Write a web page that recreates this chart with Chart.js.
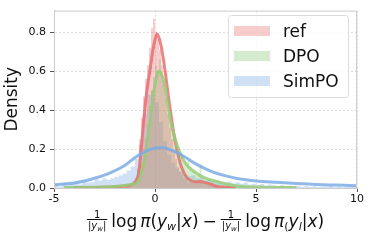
<!DOCTYPE html>
<html lang="en">
<head>
<meta charset="UTF-8">
<title>Density</title>
<script src="https://cdn.jsdelivr.net/npm/chart.js@4.4.1/dist/chart.umd.min.js"></script>
<style>
  body { margin: 0; background: #fff; }
</style>
</head>
<body>
<canvas id="density" width="372" height="244"></canvas>
<script>
// ---- data ----
const seriesNames = ['ref', 'DPO', 'SimPO'];

// histogram bins (density), bin width 0.1 for ref/DPO, 0.2 for SimPO
const refHistStart = -3.0, refHistWidth = 0.1;
const refHist = [
  0.003, 0.0, 0.005, 0.002, 0.004, 0.0, 0.006, 0.003, 0.005, 0.007,
  0.006, 0.009, 0.004, 0.010, 0.008, 0.012, 0.009, 0.015, 0.013, 0.022,
  0.030, 0.050, 0.100, 0.220, 0.360, 0.470, 0.560, 0.630, 0.720, 0.820,
  0.870, 0.800, 0.760, 0.710, 0.630, 0.550, 0.460, 0.380, 0.310, 0.250,
  0.200, 0.150, 0.110, 0.085, 0.070, 0.050, 0.045, 0.030, 0.036, 0.028,
  0.034, 0.030, 0.036, 0.027, 0.031, 0.022, 0.026, 0.015, 0.018, 0.010,
  0.008, 0.006, 0.004, 0.005, 0.002, 0.003, 0.001, 0.002, 0.0, 0.001
];
const dpoHistStart = -4.5, dpoHistWidth = 0.1;
const dpoHist = [
  0.002, 0.0, 0.004, 0.001, 0.003, 0.002, 0.005, 0.0, 0.004, 0.003,
  0.004, 0.006, 0.002, 0.005, 0.003, 0.007, 0.004, 0.006, 0.005, 0.008,
  0.005, 0.009, 0.006, 0.008, 0.012, 0.007, 0.010, 0.013, 0.009, 0.014,
  0.012, 0.016, 0.014, 0.020, 0.018, 0.024, 0.030, 0.045, 0.070, 0.120,
  0.170, 0.250, 0.330, 0.420, 0.500, 0.570, 0.630, 0.600, 0.660, 0.580,
  0.530, 0.460, 0.400, 0.350, 0.300, 0.270, 0.230, 0.210, 0.180, 0.160,
  0.130, 0.120, 0.140, 0.110, 0.085, 0.090, 0.070, 0.065, 0.120, 0.050,
  0.052, 0.040, 0.045, 0.035, 0.038, 0.030, 0.028, 0.032, 0.022, 0.025,
  0.020, 0.017, 0.019, 0.013, 0.014, 0.010, 0.012, 0.008, 0.009, 0.006,
  0.007, 0.004, 0.006, 0.003, 0.004
];
const simpoHistStart = -5.0, simpoHistWidth = 0.2;
const simpoHist = [
  0.012, 0.020, 0.008, 0.025, 0.015,
  0.020, 0.030, 0.018, 0.035, 0.028,
  0.030, 0.045, 0.038, 0.050, 0.042,
  0.050, 0.058, 0.065, 0.075, 0.090,
  0.110, 0.150, 0.250, 0.380, 0.480,
  0.500, 0.440, 0.340, 0.240, 0.170,
  0.130, 0.100, 0.085, 0.070, 0.060,
  0.065, 0.050, 0.055, 0.040, 0.045,
  0.035, 0.040, 0.030, 0.028, 0.033,
  0.025, 0.030, 0.022, 0.028, 0.018,
  0.022, 0.015, 0.020, 0.012, 0.018,
  0.014, 0.010, 0.016, 0.009, 0.012,
  0.008, 0.012, 0.007, 0.010, 0.006,
  0.009, 0.005, 0.008, 0.006, 0.010,
  0.005, 0.008, 0.004, 0.007, 0.006
];

// KDE curves
const refKdeX = [-4, -3, -2.5, -2, -1.5, -1.25, -1.1, -1.0, -0.9, -0.8, -0.7, -0.6, -0.5, -0.4, -0.3, -0.2, -0.1, 0, 0.1, 0.2, 0.3, 0.4, 0.5, 0.6, 0.7, 0.8, 0.9, 1.0, 1.1, 1.2, 1.3, 1.4, 1.5, 1.6, 1.8, 2.0, 2.2, 2.4, 2.6, 2.8, 3.0, 3.3, 3.6, 4.0];
const refKdeY = [0.002, 0.003, 0.004, 0.006, 0.010, 0.013, 0.020, 0.030, 0.045, 0.080, 0.180, 0.300, 0.410, 0.500, 0.570, 0.640, 0.710, 0.760, 0.790, 0.770, 0.730, 0.670, 0.600, 0.520, 0.440, 0.370, 0.300, 0.240, 0.190, 0.145, 0.110, 0.085, 0.065, 0.050, 0.037, 0.032, 0.033, 0.030, 0.025, 0.018, 0.010, 0.005, 0.002, 0.001];

const dpoKdeX = [-4.5, -4, -3, -2.5, -2, -1.5, -1.2, -1.0, -0.9, -0.8, -0.7, -0.6, -0.5, -0.4, -0.3, -0.2, -0.1, 0, 0.1, 0.2, 0.3, 0.4, 0.5, 0.6, 0.7, 0.8, 0.9, 1.0, 1.2, 1.4, 1.6, 1.8, 2.0, 2.3, 2.6, 3.0, 3.5, 4.0, 4.5, 5.0, 6.0, 7.0];
const dpoKdeY = [0.002, 0.003, 0.004, 0.005, 0.008, 0.013, 0.018, 0.022, 0.026, 0.040, 0.065, 0.110, 0.160, 0.230, 0.310, 0.390, 0.470, 0.530, 0.580, 0.600, 0.590, 0.560, 0.520, 0.450, 0.390, 0.330, 0.290, 0.250, 0.190, 0.145, 0.115, 0.095, 0.080, 0.060, 0.047, 0.035, 0.022, 0.012, 0.007, 0.005, 0.003, 0.002];

const simpoKdeX = [-5, -4.5, -4, -3.5, -3, -2.5, -2, -1.5, -1, -0.5, 0, 0.3, 0.5, 1, 1.5, 2, 2.5, 3, 3.5, 4, 4.5, 5, 6, 7, 8, 9, 10];
const simpoKdeY = [0.017, 0.021, 0.026, 0.036, 0.050, 0.066, 0.088, 0.115, 0.155, 0.187, 0.205, 0.208, 0.205, 0.185, 0.158, 0.125, 0.098, 0.077, 0.062, 0.050, 0.042, 0.036, 0.029, 0.023, 0.018, 0.015, 0.012];

const xTicks = [-5, 0, 5, 10];
const xTickLabels = ['-5', '0', '5', '10'];
const yTicks = [0, 0.2, 0.4, 0.6, 0.8];
const yTickLabels = ['0.0', '0.2', '0.4', '0.6', '0.8'];

// ---- styles ----
const lineColors = ['rgba(230,112,112,0.85)', 'rgba(150,205,120,0.85)', 'rgba(125,172,228,0.85)'];
const fillColors = ['rgba(230,110,110,0.35)', 'rgba(135,198,115,0.35)', 'rgba(120,170,230,0.35)'];
const FONT = '"DejaVu Sans", sans-serif';

function histPoints(start, width, values) {
  const pts = values.map((v, i) => ({ x: start + i * width, y: v }));
  pts.push({ x: start + values.length * width, y: values[values.length - 1] });
  return pts;
}
function curvePoints(xs, ys) {
  return xs.map((x, i) => ({ x: x, y: ys[i] }));
}

const hists = [
  histPoints(refHistStart, refHistWidth, refHist),
  histPoints(dpoHistStart, dpoHistWidth, dpoHist),
  histPoints(simpoHistStart, simpoHistWidth, simpoHist)
];
const kdes = [
  curvePoints(refKdeX, refKdeY),
  curvePoints(dpoKdeX, dpoKdeY),
  curvePoints(simpoKdeX, simpoKdeY)
];

const datasets = [];
for (let i = 0; i < 3; i++) {
  datasets.push({
    label: seriesNames[i] + ' hist',
    data: hists[i],
    stepped: 'after',
    fill: 'origin',
    backgroundColor: fillColors[i],
    borderWidth: 0,
    pointRadius: 0,
    order: 10 + i
  });
}
for (let i = 0; i < 3; i++) {
  datasets.push({
    label: seriesNames[i],
    data: kdes[i],
    borderColor: lineColors[i],
    borderWidth: 3,
    fill: false,
    pointRadius: 0,
    cubicInterpolationMode: 'monotone',
    order: 3 - i
  });
}

// legend box drawn inside the plot, like matplotlib
const legendBox = {
  id: 'legendBox',
  afterDraw(chart) {
    const c = chart.ctx;
    c.save();
    const x0 = 228, y0 = 15, w = 120, h = 82;
    c.beginPath();
    c.roundRect(x0 + 0.5, y0 + 0.5, w, h, 3);
    c.fillStyle = 'rgba(255,255,255,0.8)';
    c.fill();
    c.strokeStyle = '#dcdcdc';
    c.lineWidth = 1;
    c.stroke();
    c.font = '17px ' + FONT;
    c.textBaseline = 'alphabetic';
    for (let i = 0; i < seriesNames.length; i++) {
      const cy = 31 + i * 25;
      c.fillStyle = fillColors[i];
      c.fillRect(234, cy - 5, 36, 10);
      c.fillStyle = '#111';
      c.fillText(seriesNames[i], 283, cy + 6);
    }
    c.restore();
  }
};

// frame + math x-axis title
const frameAndTitle = {
  id: 'frameAndTitle',
  afterDraw(chart) {
    const c = chart.ctx;
    const a = chart.chartArea;
    c.save();
    c.strokeStyle = '#cccccc';
    c.lineWidth = 1;
    c.strokeRect(a.left + 0.5, a.top + 0.5, a.right - a.left - 1, a.bottom - a.top);

    const big = 17, fr = 10, sub = 11;
    const f = (size, it) => (it ? 'italic ' : '') + size + 'px ' + FONT;
    const frac = { frac: true };
    const parts = [
      frac, { gap: 4 },
      { t: 'log', font: f(big) }, { gap: 3 },
      { t: 'π', font: f(big, true) },
      { t: '(', font: f(big) },
      { t: 'y', font: f(big, true) }, { t: 'w', font: f(sub, true), dy: 3 },
      { t: '|', font: f(big) },
      { t: 'x', font: f(big, true) },
      { t: ')', font: f(big) }, { gap: 4 },
      { t: '−', font: f(big) }, { gap: 4 },
      frac, { gap: 4 },
      { t: 'log', font: f(big) }, { gap: 3 },
      { t: 'π', font: f(big, true) },
      { t: '(', font: f(sub), dy: 3 },
      { t: 'y', font: f(big, true) }, { t: 'l', font: f(sub, true), dy: 3 },
      { t: '|', font: f(big) },
      { t: 'x', font: f(big, true) },
      { t: ')', font: f(big) }
    ];
    const fracPieces = [
      { t: '|', font: f(fr) }, { t: 'y', font: f(fr, true) },
      { t: 'w', font: f(7, true), dy: 2 }, { t: '|', font: f(fr) }
    ];
    const widthOf = p => { c.font = p.font; return c.measureText(p.t).width; };
    const fracW = fracPieces.reduce((s, p) => s + widthOf(p), 0) + 2;
    let total = 0;
    parts.forEach(p => {
      if (p.gap) total += p.gap;
      else if (p.frac) total += fracW;
      else total += widthOf(p);
    });
    const base = 227;
    let x = (a.left + a.right) / 2 - total / 2;
    c.fillStyle = '#111';
    c.textBaseline = 'alphabetic';
    parts.forEach(p => {
      if (p.gap) { x += p.gap; return; }
      if (p.frac) {
        c.font = f(fr);
        const nw = c.measureText('1').width;
        c.fillText('1', x + fracW / 2 - nw / 2, base - 9);
        c.fillRect(x, base - 8, fracW, 1);
        let dx = x + 1;
        fracPieces.forEach(q => {
          c.font = q.font;
          c.fillText(q.t, dx, base + 2 + (q.dy || 0));
          dx += c.measureText(q.t).width;
        });
        x += fracW;
        return;
      }
      c.font = p.font;
      c.fillText(p.t, x, base + (p.dy || 0));
      x += c.measureText(p.t).width;
    });
    c.restore();
  }
};

const ctx = document.getElementById('density').getContext('2d');
const chart = new Chart(ctx, {
  type: 'line',
  data: { datasets: datasets },
  options: {
    responsive: false,
    animation: false,
    layout: { padding: { top: 6, right: 15, left: 0, bottom: 0 } },
    plugins: { legend: { display: false }, tooltip: { enabled: false } },
    scales: {
      x: {
        type: 'linear',
        min: -5,
        max: 10,
        afterBuildTicks: s => { s.ticks = xTicks.map(v => ({ value: v })); },
        afterFit: s => { s.height = 56; },
        ticks: {
          callback: (v, i) => xTickLabels[i],
          font: { family: FONT, size: 11 },
          color: '#111',
          maxRotation: 0,
          padding: 1
        },
        grid: { color: '#dddddd', tickColor: '#555', tickLength: 4 },
        border: { color: '#cccccc', dash: [2, 2] }
      },
      y: {
        min: 0,
        max: 0.91,
        afterBuildTicks: s => { s.ticks = yTicks.map(v => ({ value: v })); },
        afterFit: s => { s.width = 54; },
        ticks: {
          callback: (v, i) => yTickLabels[i],
          font: { family: FONT, size: 11 },
          color: '#111',
          padding: 4
        },
        grid: { color: '#dddddd', tickColor: '#555', tickLength: 4 },
        border: { color: '#cccccc', dash: [2, 2] },
        title: {
          display: true,
          text: 'Density',
          font: { family: FONT, size: 17 },
          color: '#111',
          padding: { top: 2, bottom: 0 }
        }
      }
    }
  },
  plugins: [legendBox, frameAndTitle]
});
</script>
</body>
</html>
